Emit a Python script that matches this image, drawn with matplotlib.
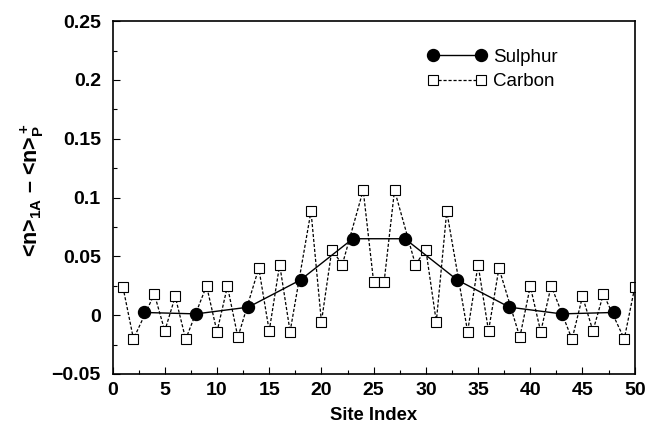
import matplotlib
matplotlib.use("Agg")
import matplotlib.pyplot as plt
from matplotlib.ticker import MultipleLocator

plt.rcParams["font.family"] = ["Liberation Sans", "DejaVu Sans"]
plt.rcParams["mathtext.fontset"] = "custom"
plt.rcParams["mathtext.rm"] = "Liberation Sans:bold"
plt.rcParams["mathtext.it"] = "Liberation Sans:bold"
plt.rcParams["mathtext.bf"] = "Liberation Sans:bold"

# sulphur sites (every 5th site)
s_x = [3, 8, 13, 18, 23, 28, 33, 38, 43, 48]
s_y = [0.0023, 0.0011, 0.0068, 0.030, 0.065, 0.065, 0.030, 0.0068, 0.0011, 0.0023]

# carbon sites
c_x = [1, 2, 4, 5, 6, 7, 9, 10, 11, 12, 14, 15, 16, 17, 19, 20, 21, 22, 24, 25,
       26, 27, 29, 30, 31, 32, 34, 35, 36, 37, 39, 40, 41, 42, 44, 45, 46, 47, 49, 50]
c_y = [0.0236, -0.0202, 0.018, -0.0134, 0.0159, -0.0205, 0.025, -0.0142, 0.0246, -0.0188,
       0.040, -0.0134, 0.043, -0.014, 0.0884, -0.0057, 0.0557, 0.043, 0.1063, 0.0282,
       0.0282, 0.1063, 0.043, 0.0557, -0.0057, 0.0884, -0.014, 0.043, -0.0134, 0.040,
       -0.0188, 0.0246, -0.0142, 0.025, -0.0205, 0.0159, -0.0134, 0.018, -0.0202, 0.0236]

xticks = [0, 5, 10, 15, 20, 25, 30, 35, 40, 45, 50]
yticks = [-0.05, 0, 0.05, 0.1, 0.15, 0.2, 0.25]
yticklabels = ["\u22120.05", "0", "0.05", "0.1", "0.15", "0.2", "0.25"]

fig = plt.figure(figsize=(6.47, 4.24), dpi=100)
ax = fig.add_axes([0.174, 0.118, 0.807, 0.832])

ax.plot(c_x, c_y, color="black", linestyle=(0, (2.5, 1.5)), linewidth=0.9,
        marker="s", markersize=7, markerfacecolor="white",
        markeredgecolor="black", markeredgewidth=0.8, label="Carbon", zorder=2)
ax.plot(s_x, s_y, color="black", linestyle="-", linewidth=1.0,
        marker="o", markersize=8.6, markerfacecolor="black",
        markeredgecolor="black", label="Sulphur", zorder=3)

ax.set_xlim(0, 50)
ax.set_ylim(-0.05, 0.25)
ax.set_xticks(xticks)
ax.set_xticklabels([str(t) for t in xticks])
ax.set_yticks(yticks)
ax.set_yticklabels(yticklabels)
ax.xaxis.set_minor_locator(MultipleLocator(2.5))
ax.yaxis.set_minor_locator(MultipleLocator(0.025))
ax.tick_params(which="both", direction="in", top=False, right=False,
               labelsize=14, width=0.8)
ax.tick_params(which="major", length=5)
ax.tick_params(axis="y", which="major", pad=8.5)
ax.tick_params(axis="x", which="major", pad=6)
ax.tick_params(which="minor", length=3)
for lab in ax.get_xticklabels() + ax.get_yticklabels():
    lab.set_fontweight("bold")
for sp in ax.spines.values():
    sp.set_linewidth(1.2)

ax.set_xlabel("Site Index", fontsize=13.3, fontweight="bold", labelpad=5.5)
ylab = "<n>$_{\\rm 1A}$ \u2013 <n>$_{\\rm P}^{\\rm +}$"
ax.set_ylabel(ylab, fontsize=15.5, fontweight="bold")
ax.yaxis.set_label_coords(-0.128, 0.52)

handles, labels = ax.get_legend_handles_labels()
ax.legend(handles[::-1], labels[::-1], loc="upper left", bbox_to_anchor=(0.57, 0.97),
          frameon=False, fontsize=13.5, handlelength=3.2, labelspacing=0.4,
          handletextpad=0.3, numpoints=2)

fig.savefig("out.png", dpi=100)
